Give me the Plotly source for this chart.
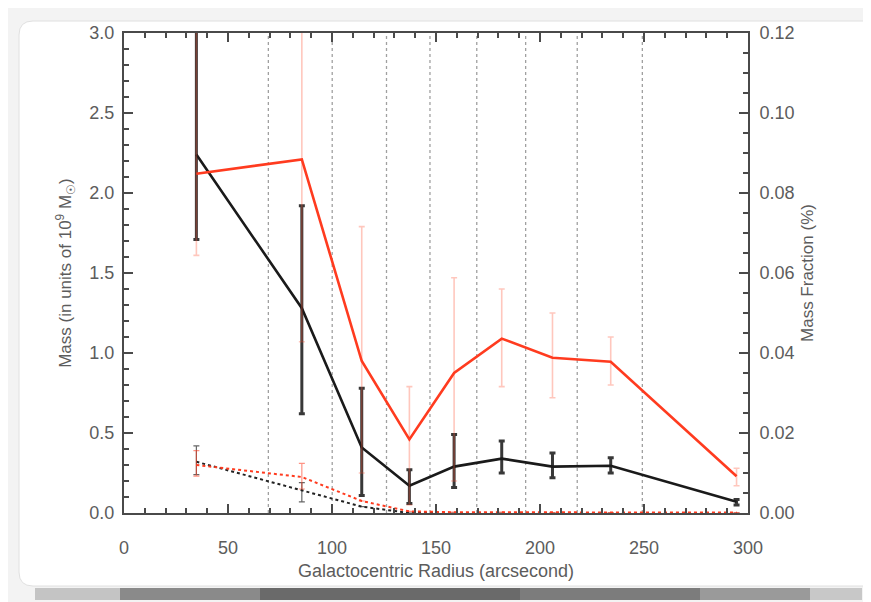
import plotly.graph_objects as go

# ---------------- data ----------------
radius = [34.8, 85.5, 114.3, 137.2, 158.7, 181.6, 206.0, 234.0, 294.5]

# Mass (10^9 Msun), left axis
mass = [2.24, 1.28, 0.41, 0.17, 0.29, 0.34, 0.29, 0.295, 0.07]
mass_hi = [3.40, 1.92, 0.78, 0.27, 0.49, 0.45, 0.375, 0.345, 0.085]
mass_lo = [1.71, 0.62, 0.11, 0.06, 0.16, 0.25, 0.22, 0.25, 0.05]

# Mass fraction (%), right axis
frac = [0.0848, 0.0884, 0.0380, 0.0184, 0.0350, 0.0436, 0.0388, 0.0378, 0.0092]
frac_hi = [0.136, 0.136, 0.0716, 0.0316, 0.0588, 0.0560, 0.0500, 0.0440, 0.0112]
frac_lo = [0.0644, 0.0428, 0.0100, 0.0020, 0.0080, 0.0316, 0.0288, 0.0320, 0.0068]

# dotted (secondary) component
mass2 = [0.32, 0.14, 0.04, 0.0, 0.0, 0.0, 0.0, 0.0, 0.0]
mass2_hi = [0.42, 0.19, 0.04, 0.0, 0.0, 0.0, 0.0, 0.0, 0.0]
mass2_lo = [0.24, 0.07, 0.04, 0.0, 0.0, 0.0, 0.0, 0.0, 0.0]
frac2 = [0.0120, 0.0090, 0.0030, 0.0004, 0.0002, 0.0002, 0.0001, 0.0001, 0.0001]
frac2_hi = [0.0156, 0.0124, 0.0030, 0.0004, 0.0002, 0.0002, 0.0001, 0.0001, 0.0001]
frac2_lo = [0.0092, 0.0060, 0.0030, 0.0004, 0.0002, 0.0002, 0.0001, 0.0001, 0.0001]

# annulus boundaries (vertical dotted lines)
bin_edges = [69.4, 100.1, 126.2, 147.1, 169.6, 193.1, 217.9, 249.2]

x_ticks = [0, 50, 100, 150, 200, 250, 300]

RED = "#ff3b1f"
TXT = "#5c5c5c"
AX = "#4a4a4a"
OFF = 8                      # default body margin of the html page
W, H = 871 - OFF, 602 - OFF
# plot area in page pixels
L, R, T, B = 124, 748, 33, 513


def up(v, hi):
    return [h - x for x, h in zip(v, hi)]


def dn(v, lo):
    return [x - l for x, l in zip(v, lo)]


fig = go.Figure()

# vertical dotted lines
for e in bin_edges:
    fig.add_trace(go.Scatter(x=[e, e], y=[0, 3.0], mode="lines",
                             line=dict(color="#a0a0a0", width=1.3, dash="dot"),
                             hoverinfo="skip", showlegend=False))

# red dotted
fig.add_trace(go.Scatter(x=radius, y=frac2, yaxis="y2", mode="lines",
                         line=dict(color=RED, width=2, dash="dot"),
                         error_y=dict(type="data", symmetric=False,
                                      array=up(frac2, frac2_hi), arrayminus=dn(frac2, frac2_lo),
                                      color="rgba(255,59,31,0.55)", thickness=1.2, width=3),
                         showlegend=False))
# black dotted
fig.add_trace(go.Scatter(x=radius, y=mass2, mode="lines",
                         line=dict(color="#222222", width=2, dash="dot"),
                         error_y=dict(type="data", symmetric=False,
                                      array=up(mass2, mass2_hi), arrayminus=dn(mass2, mass2_lo),
                                      color="rgba(0,0,0,0.6)", thickness=1.2, width=3),
                         showlegend=False))

# red solid (mass fraction)
fig.add_trace(go.Scatter(x=radius, y=frac, yaxis="y2", mode="lines",
                         line=dict(color=RED, width=2.6),
                         error_y=dict(type="data", symmetric=False,
                                      array=up(frac, frac_hi), arrayminus=dn(frac, frac_lo),
                                      color="rgba(255,80,50,0.32)", thickness=1.6, width=3),
                         showlegend=False))
# black solid (mass)
fig.add_trace(go.Scatter(x=radius, y=mass, mode="lines",
                         line=dict(color="#1a1a1a", width=2.6),
                         error_y=dict(type="data", symmetric=False,
                                      array=up(mass, mass_hi), arrayminus=dn(mass, mass_lo),
                                      color="rgba(0,0,0,0.78)", thickness=3, width=3),
                         showlegend=False))


def px(xp):
    return (xp - L) / (R - L)


def py(yp):
    return (B - yp) / (B - T)


shapes = []
# paper sheet with rounded corners
x0, x1, y0, y1, r = px(19), px(868), py(21), py(586), 14
rx, ry = r / (R - L), r / (B - T)
path = (f"M {x0+rx},{y0} L {x1},{y0} L {x1},{y1} L {x0+rx},{y1} "
        f"Q {x0},{y1} {x0},{y1+ry} L {x0},{y0-ry} Q {x0},{y0} {x0+rx},{y0} Z")
shapes.append(dict(type="path", xref="paper", yref="paper", path=path,
                   fillcolor="white", line=dict(color="#e0e0e0", width=1), layer="below"))
# torn dark edge at bottom
band = [(35, 120, "#c4c4c4"), (120, 260, "#8a8a8a"), (260, 520, "#6a6a6a"),
        (520, 700, "#7c7c7c"), (700, 810, "#9a9a9a"), (810, 862, "#c8c8c8")]
for a, b, c in band:
    shapes.append(dict(type="rect", xref="paper", yref="paper",
                       x0=px(a), x1=px(b), y0=py(600), y1=py(588),
                       fillcolor=c, line=dict(width=0), layer="below"))

fig.update_layout(
    width=W, height=H,
    margin=dict(l=L - OFF, r=W - (R - OFF), t=T - OFF, b=H - (B - OFF), autoexpand=False),
    paper_bgcolor="#f3f3f3", plot_bgcolor="white",
    font=dict(family="Liberation Sans, Arial, sans-serif", size=18, color=TXT),
    shapes=shapes,
    xaxis=dict(range=[0, 300], tickmode="array", tickvals=x_ticks,
               ticktext=[str(v) for v in x_ticks],
               ticks="inside", ticklen=9, tickwidth=2, tickcolor=AX,
               minor=dict(dtick=10, ticks="inside", ticklen=5, tickwidth=2, tickcolor=AX),
               showline=True, linecolor=AX, linewidth=2, mirror="ticks",
               showgrid=False, zeroline=False, ticklabelstandoff=17,
               title=dict(text="Galactocentric Radius (arcsecond)", standoff=8,
                          font=dict(size=18, color=TXT))),
    yaxis=dict(range=[0, 3.0], dtick=0.5, tickformat=".1f",
               ticks="inside", ticklen=9, tickwidth=2, tickcolor=AX,
               minor=dict(dtick=0.1, ticks="inside", ticklen=5, tickwidth=2, tickcolor=AX),
               showline=True, linecolor=AX, linewidth=2,
               showgrid=False, zeroline=False, ticklabelstandoff=4,
               title=dict(text="Mass (in units of 10<sup>9</sup> M<sub>☉</sub>)", standoff=13,
                          font=dict(size=17, color=TXT))),
    yaxis2=dict(range=[0, 0.12], dtick=0.02, tickformat=".2f", overlaying="y", side="right",
                ticks="inside", ticklen=9, tickwidth=2, tickcolor=AX,
                minor=dict(dtick=0.005, ticks="inside", ticklen=5, tickwidth=2, tickcolor=AX),
                showline=True, linecolor=AX, linewidth=2,
                showgrid=False, zeroline=False, ticklabelstandoff=6,
                title=dict(text="Mass Fraction (%)", standoff=7,
                           font=dict(size=17, color=TXT))),
)

fig.write_html("out.html")
